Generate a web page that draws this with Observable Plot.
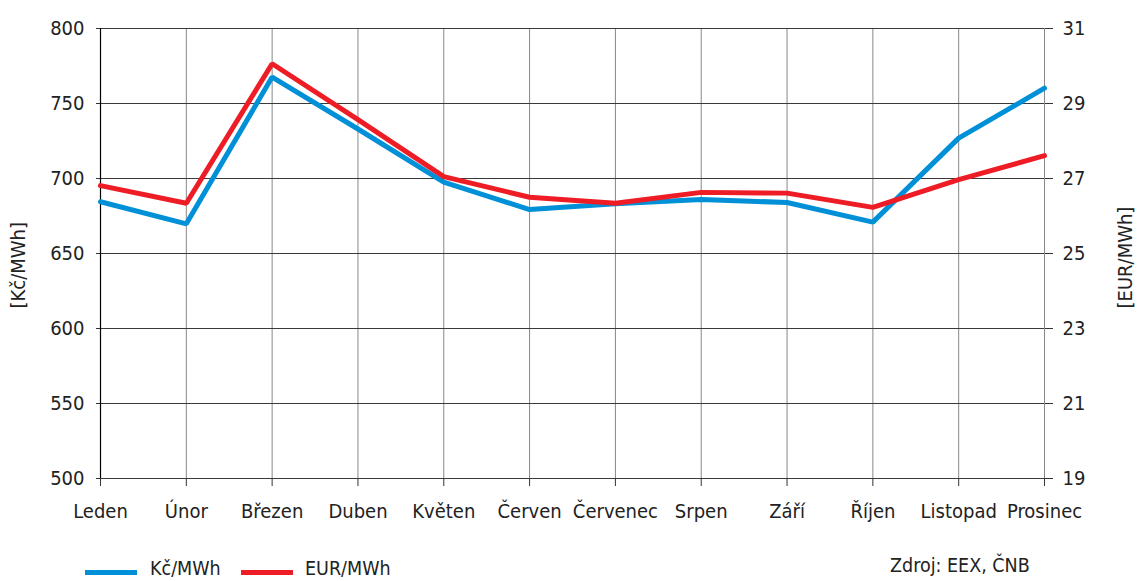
<!DOCTYPE html>
<html><head><meta charset="utf-8">
<script src="https://cdn.jsdelivr.net/npm/d3@7"></script>
<script src="https://cdn.jsdelivr.net/npm/@observablehq/plot@0.6"></script>
<style>
body{margin:0;background:#fff;font-family:"DejaVu Sans Condensed","DejaVu Sans",sans-serif;color:#222;}
#wrap{position:relative;width:1138px;height:581px;overflow:hidden;}
#chart{position:absolute;left:0;top:0;}
.sw{position:absolute;height:5px;}
.lt{position:absolute;font-size:19.5px;line-height:20px;white-space:nowrap;}
</style></head><body>
<div id="wrap">
  <div id="chart"></div>
  <div class="sw" style="left:85px;top:570px;width:52px;background:#0090d8"></div>
  <div class="lt" style="left:150px;top:559px">Kč/MWh</div>
  <div class="sw" style="left:241px;top:570px;width:52px;background:#ee1c25"></div>
  <div class="lt" style="left:305px;top:559px">EUR/MWh</div>
  <div class="lt" style="left:890px;top:556px">Zdroj: EEX, ČNB</div>
</div>
<script>
const months = ["Leden","Únor","Březen","Duben","Květen","Červen","Červenec","Srpen","Září","Říjen","Listopad","Prosinec"];
const czk = [684.5, 669.8, 767.6, 733.0, 697.6, 679.3, 683.1, 686.0, 684.0, 670.9, 726.9, 760.2];
const eur = [26.81, 26.34, 30.06, 28.57, 27.05, 26.50, 26.34, 26.63, 26.61, 26.23, 26.97, 27.61];
const leftTicks = [500, 550, 600, 650, 700, 750, 800];
const rightTicks = [19, 21, 23, 25, 27, 29, 31];

// EUR axis shares the grid: 19 ↔ 500, 31 ↔ 800
const eurToLeft = e => 500 + (e - 19) * 25;
const leftToEur = v => 19 + (v - 500) / 25;

const rows = months.map((m, i) => ({month: m, czk: czk[i], eur: eurToLeft(eur[i])}));
const font = "DejaVu Sans Condensed, DejaVu Sans, sans-serif";
const fs = 20;

const chart = Plot.plot({
  width: 1138,
  height: 540,
  marginLeft: 100,
  marginRight: 94,
  marginTop: 28,
  marginBottom: 62,
  style: {fontFamily: font, fontSize: fs + "px", color: "#222", background: "#fff"},
  x: {type: "point", domain: months, padding: 0, round: false},
  y: {domain: [500, 800]},
  marks: [
    Plot.gridX(months, {stroke: "#888", strokeOpacity: 1, strokeWidth: 1}),
    Plot.gridY(leftTicks, {stroke: "#3a3a3a", strokeOpacity: 1, strokeWidth: 1}),
    Plot.ruleX([months[0]], {stroke: "#000", strokeWidth: 1.2}),
    Plot.axisY(leftTicks, {anchor: "left", tickSize: 4, tickPadding: 12, fontSize: fs, label: null, stroke: "#333"}),
    Plot.axisY(rightTicks.map(eurToLeft), {anchor: "right", tickSize: 8, tickPadding: 10, fontSize: fs, label: null, tickFormat: d => String(leftToEur(d)), stroke: "#333"}),
    Plot.axisX(months, {tickSize: 8, tickPadding: 17, fontSize: fs, label: null, stroke: "#333"}),
    Plot.text(["[Kč/MWh]"], {frameAnchor: "left", textAnchor: "start", dx: -82, dy: 55, rotate: -90, fontSize: fs, fill: "#222"}),
    Plot.text(["[EUR/MWh]"], {frameAnchor: "right", textAnchor: "start", dx: 81, dy: 55, rotate: -90, fontSize: fs, fill: "#222"}),
    Plot.line(rows, {x: "month", y: "czk", stroke: "#0090d8", strokeWidth: 5, strokeLinejoin: "miter"}),
    Plot.line(rows, {x: "month", y: "eur", stroke: "#ee1c25", strokeWidth: 5, strokeLinejoin: "miter"})
  ]
});
document.getElementById("chart").appendChild(chart);
</script>
</body></html>
